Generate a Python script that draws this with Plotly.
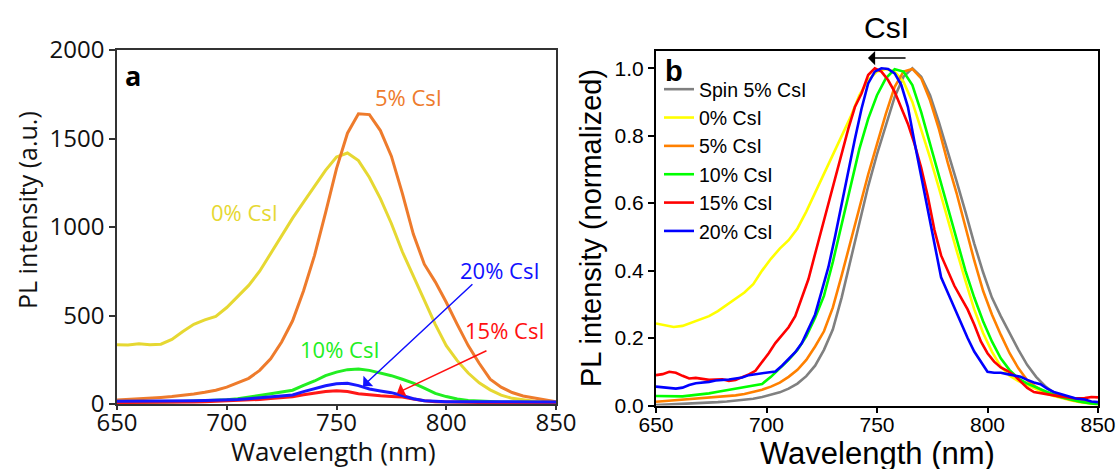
import plotly.graph_objects as go

# ---------------- Panel a data (absolute PL intensity) ----------------
wl_a = [650, 655, 660, 665, 670, 675, 680, 685, 690, 695, 700, 705, 710, 715, 720,
        725, 730, 735, 740, 745, 750, 755, 760, 765, 770, 775, 780, 785, 790, 795,
        800, 805, 810, 815, 820, 825, 830, 835, 840, 845, 850]
pl_a_0 = [335, 334, 340, 335, 338, 365, 410, 450, 475, 495, 545, 610, 670, 750, 850,
          945, 1050, 1140, 1230, 1320, 1395, 1418, 1375, 1280, 1160, 1020, 860, 720, 590, 450,
          330, 245, 175, 120, 80, 50, 32, 22, 15, 10, 8]
pl_a_5 = [22, 25, 28, 33, 37, 42, 48, 56, 66, 78, 95, 118, 145, 190, 255,
          350, 470, 640, 840, 1080, 1330, 1530, 1640, 1635, 1545, 1400, 1190, 960, 790, 690,
          575, 450, 330, 230, 140, 95, 65, 45, 35, 25, 13]
pl_a_10 = [9, 9, 10, 11, 12, 13, 14, 16, 18, 21, 24, 30, 38, 48, 58,
           68, 78, 105, 130, 160, 180, 194, 198, 190, 175, 160, 140, 118, 90, 60,
           42, 28, 20, 16, 14, 12, 11, 10, 10, 9, 9]
pl_a_15 = [8, 8, 8, 9, 9, 10, 11, 12, 13, 15, 17, 19, 22, 26, 31,
           36, 41, 52, 62, 70, 75, 70, 58, 51, 46, 43, 39, 28, 18, 13,
           11, 10, 10, 9, 9, 9, 8, 8, 8, 8, 8]
pl_a_20 = [15, 15, 15, 16, 17, 17, 18, 19, 20, 21, 23, 26, 30, 36, 42,
           47, 51, 70, 88, 103, 114, 117, 104, 85, 74, 64, 48, 30, 18, 14,
           13, 13, 13, 13, 13, 12, 12, 12, 12, 12, 12]
labels_a = ["0% CsI", "5% CsI", "10% CsI", "15% CsI", "20% CsI"]

# ---------------- Panel b data (normalized) ----------------
wl_b4 = [650, 654, 658, 662, 666, 670, 674, 678, 682, 686, 690, 694, 698, 702, 706,
         710, 714, 718, 722, 726, 730, 734, 738, 742, 746, 750, 754, 758, 762, 766,
         770, 774, 778, 782, 786, 790, 794, 798, 802, 806, 810, 814, 818, 822, 826,
         830, 834, 838, 842, 846, 850]
nb_spin = [0.001, 0.002, 0.003, 0.004, 0.005, 0.006, 0.008, 0.010, 0.012, 0.014, 0.017, 0.020, 0.025, 0.031, 0.039,
           0.050, 0.065, 0.087, 0.118, 0.165, 0.225, 0.32, 0.43, 0.545, 0.65, 0.745, 0.83, 0.915, 0.975, 1.0,
           0.975, 0.92, 0.84, 0.755, 0.665, 0.575, 0.48, 0.395, 0.32, 0.265, 0.215, 0.165, 0.12, 0.085, 0.058,
           0.038, 0.027, 0.019, 0.014, 0.010, 0.007]
nb_0 = [0.243, 0.238, 0.233, 0.236, 0.245, 0.255, 0.265, 0.28, 0.298, 0.315, 0.335, 0.36, 0.40, 0.435, 0.465,
        0.49, 0.525, 0.575, 0.63, 0.685, 0.74, 0.795, 0.855, 0.92, 0.965, 0.99, 0.998, 0.99, 0.96, 0.90,
        0.82, 0.735, 0.645, 0.55, 0.46, 0.37, 0.285, 0.215, 0.16, 0.115, 0.088, 0.072, 0.06, 0.048, 0.037,
        0.028, 0.021, 0.015, 0.010, 0.006, 0.003]
nb_5 = [0.011, 0.013, 0.015, 0.016, 0.018, 0.020, 0.022, 0.025, 0.027, 0.030, 0.034, 0.040, 0.047, 0.056, 0.068,
        0.085, 0.106, 0.135, 0.175, 0.22, 0.29, 0.385, 0.485, 0.585, 0.685, 0.775, 0.865, 0.945, 0.99, 0.998,
        0.97, 0.905, 0.82, 0.72, 0.63, 0.53, 0.43, 0.34, 0.27, 0.21, 0.155, 0.11, 0.075, 0.055, 0.04,
        0.03, 0.022, 0.016, 0.011, 0.007, 0.005]
nb_10 = [0.028, 0.027, 0.026, 0.027, 0.030, 0.032, 0.036, 0.041, 0.046, 0.050, 0.054, 0.059, 0.064, 0.085, 0.11,
         0.135, 0.165, 0.205, 0.26, 0.325, 0.425, 0.535, 0.645, 0.76, 0.85, 0.92, 0.97, 0.997, 0.99, 0.95,
         0.87, 0.777, 0.68, 0.585, 0.49, 0.40, 0.32, 0.25, 0.19, 0.14, 0.105, 0.08, 0.065, 0.054, 0.043,
         0.032, 0.024, 0.017, 0.011, 0.007, 0.004]

wl_b3 = [650, 653, 656, 659, 662, 665, 668, 671, 674, 677,
         680, 683, 686, 689, 692, 695, 698, 701, 704, 707,
         710, 713, 716, 719, 722, 725, 728, 731, 734, 737,
         740, 743, 746, 749, 752, 755, 758, 761, 764, 767,
         770, 773, 776, 779, 782, 785, 788, 791, 794, 797,
         800, 803, 806, 809, 812, 815, 818, 821, 824, 827,
         830, 833, 836, 840, 844, 847, 850]
nb_15 = [0.090, 0.093, 0.100, 0.097, 0.088, 0.080, 0.082, 0.078, 0.076, 0.077,
         0.078, 0.073, 0.076, 0.084, 0.092, 0.103, 0.128, 0.155, 0.185, 0.21,
         0.232, 0.265, 0.32, 0.375, 0.45, 0.525, 0.60, 0.675, 0.75, 0.82,
         0.885, 0.925, 0.98, 1.0, 0.99, 0.965, 0.93, 0.885, 0.835, 0.775,
         0.705, 0.62, 0.52, 0.445, 0.40, 0.355, 0.32, 0.285, 0.24, 0.19,
         0.155, 0.13, 0.113, 0.103, 0.09, 0.07, 0.052, 0.04, 0.036, 0.032,
         0.030, 0.027, 0.025, 0.021, 0.022, 0.025, 0.024]
nb_20 = [0.056, 0.054, 0.052, 0.050, 0.053, 0.061, 0.066, 0.067, 0.070, 0.074,
         0.075, 0.077, 0.080, 0.083, 0.090, 0.093, 0.096, 0.099, 0.101, 0.118,
         0.137, 0.158, 0.185, 0.225, 0.27, 0.34, 0.41, 0.50, 0.60, 0.69,
         0.79, 0.88, 0.955, 0.99, 1.0, 0.998, 0.985, 0.95, 0.885, 0.78,
         0.68, 0.58, 0.48, 0.38, 0.335, 0.29, 0.24, 0.20, 0.16, 0.13,
         0.10, 0.097, 0.097, 0.093, 0.088, 0.085, 0.076, 0.068, 0.063, 0.050,
         0.040, 0.034, 0.028, 0.021, 0.018, 0.012, 0.010]
labels_b = ["Spin 5% CsI", "0% CsI", "5% CsI", "10% CsI", "15% CsI", "20% CsI"]

for arr in (pl_a_0, pl_a_5, pl_a_10, pl_a_15, pl_a_20):
    assert len(arr) == len(wl_a)
for arr in (nb_spin, nb_0, nb_5, nb_10):
    assert len(arr) == len(wl_b4)
for arr in (nb_15, nb_20):
    assert len(arr) == len(wl_b3)

# ---------------- Styles ----------------
W, H = 1118, 469
FA = "Open Sans"
FB = "Liberation Sans, Arial"
cols_a = ["#E6D832", "#EE7B2C", "#22EE22", "#FF1818", "#1818FF"]
cols_b = ["#808080", "#FFFF00", "#FF8000", "#00FF00", "#FF0000", "#0000FF"]


def px(x):
    return x / W


def py(y):
    return 1 - y / H


fig = go.Figure()

series_a = [pl_a_0, pl_a_5, pl_a_10, pl_a_15, pl_a_20]
for lab, vals, c in zip(labels_a, series_a, cols_a):
    fig.add_trace(go.Scatter(x=wl_a, y=vals, mode="lines", name=lab,
                             line=dict(color=c, width=3), showlegend=False,
                             xaxis="x", yaxis="y"))

series_b = [(wl_b4, nb_spin), (wl_b4, nb_0), (wl_b4, nb_5), (wl_b4, nb_10),
            (wl_b3, nb_15), (wl_b3, nb_20)]
for lab, (xs, ys), c in zip(labels_b, series_b, cols_b):
    fig.add_trace(go.Scatter(x=xs, y=ys, mode="lines", name=lab,
                             line=dict(color=c, width=2.6), showlegend=True,
                             xaxis="x2", yaxis="y2"))

axa = dict(showline=True, mirror=True, linecolor="#333333", linewidth=1.5,
           ticks="outside", ticklen=6, tickwidth=1.5, tickcolor="#333333",
           showgrid=False, zeroline=False, automargin=False,
           tickfont=dict(family=FA, size=24, color="#111111"))
axb = dict(showline=True, mirror=True, linecolor="#000000", linewidth=2,
           ticks="outside", ticklen=6, tickwidth=2, tickcolor="#000000",
           showgrid=False, zeroline=False, automargin=False,
           tickfont=dict(family=FB, size=21, color="#000000"))

fig.update_layout(
    width=W, height=H, autosize=False,
    margin=dict(l=0, r=0, t=0, b=0, autoexpand=False),
    paper_bgcolor="white", plot_bgcolor="white",
    xaxis=dict(axa, domain=[px(117), px(556)], range=[650, 850], dtick=50, anchor="y",
               ticklen=4, ticklabelstandoff=-8),
    yaxis=dict(axa, domain=[py(404), py(50)], range=[0, 2000], dtick=500, anchor="x"),
    xaxis2=dict(axb, domain=[px(656), px(1098)], range=[650, 850], dtick=50, anchor="y2",
                ticklen=5, ticklabelstandoff=-6),
    yaxis2=dict(axb, domain=[py(405.5), py(50.7)], range=[0, 1.052], dtick=0.2,
                tickformat=".1f", anchor="x2"),
    legend=dict(x=px(659), y=py(70), xanchor="left", yanchor="top",
                bgcolor="rgba(0,0,0,0)", font=dict(family=FB, size=19.5, color="#000"),
                tracegroupgap=0, itemwidth=30),
)

ann = []


def txt(text, x, y, font, angle=0, ref=("paper", "paper")):
    ann.append(dict(text=text, x=x, y=y, xref=ref[0], yref=ref[1], showarrow=False,
                    xanchor="center", yanchor="middle", textangle=angle, font=font))


# axis titles
txt("Wavelength (nm)", px(333), py(451), dict(family=FA, size=26, color="#111"))
txt("PL intensity (a.u.)", px(27), py(210), dict(family=FA, size=25, color="#111"), -90)
txt("Wavelength (nm)", px(877), py(453), dict(family=FB, size=31, color="#000"))
txt("PL intensity (normalized)", px(591), py(228), dict(family=FB, size=29, color="#000"), -90)
# panel letters and title
txt("<b>a</b>", px(133), py(75), dict(family=FA, size=27, color="#000"))
txt("<b>b</b>", px(674), py(71), dict(family=FB, size=29, color="#000"))
txt("CsI", px(886), py(28), dict(family=FB, size=30, color="#000"))
# panel a series labels
lab_pos = [(708.3, 1085), (782.6, 1735), (751.6, 311), (826.8, 418), (824.5, 757)]
for lab, (lx, ly), c in zip(labels_a, lab_pos, cols_a):
    c2 = {"#FF1818": "#FF1010", "#1818FF": "#1010FF"}.get(c, c)
    txt(lab, lx, ly, dict(family=FA, size=22, color=c2), ref=("x", "y"))
# arrows in panel a
ann.append(dict(text="", x=762.1, y=102, ax=812.6, ay=684, xref="x", yref="y",
                axref="x", ayref="y", showarrow=True, arrowhead=1, arrowsize=1.6,
                arrowwidth=1.5, arrowcolor="#1010FF", standoff=0))
ann.append(dict(text="", x=777.6, y=62, ax=819.0, ay=305, xref="x", yref="y",
                axref="x", ayref="y", showarrow=True, arrowhead=1, arrowsize=1.6,
                arrowwidth=1.5, arrowcolor="#FF1010", standoff=0))
# arrow in panel b
ann.append(dict(text="", x=745.9, y=1.03, ax=763.6, ay=1.03, xref="x2", yref="y2",
                axref="x2", ayref="y2", showarrow=True, arrowhead=1, arrowsize=1.6,
                arrowwidth=1.5, arrowcolor="#000000", standoff=0))
fig.update_layout(annotations=ann)

fig.write_html("out.html", config={"displayModeBar": False},
               post_script="document.body.style.margin='0';document.body.style.padding='0';")
